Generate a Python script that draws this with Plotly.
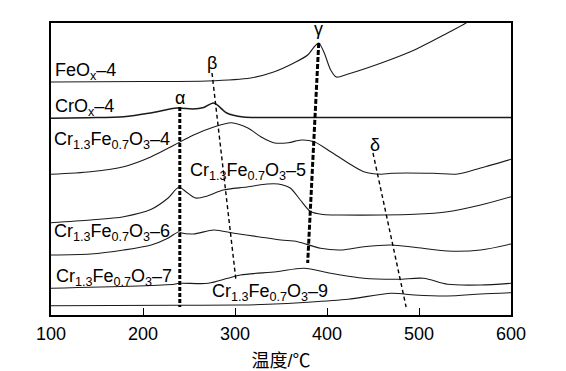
import plotly.graph_objects as go

# Temperature (°C) and signal (a.u., stacked)
T_fe = [100, 200, 270, 317, 342, 364, 379, 386, 391, 397, 404, 410, 423, 459, 495, 531, 551, 575, 600]
I_fe = [233, 233.5, 234, 237, 243, 252, 260, 268, 272, 262, 245, 238, 241, 252, 265, 282, 292, 307, 323]

T_cr = [100, 140, 179, 208, 237, 254, 266, 277, 291, 309, 330, 600]
I_cr = [196.7, 197.3, 198.3, 202, 207, 206, 207.5, 212, 202, 198, 197.5, 197.5]

T_4 = [100, 143, 179, 209, 234, 255, 277, 296, 314, 328, 342, 358, 372, 386, 404, 423, 440, 459, 470, 516, 542, 567, 600]
I_4 = [140.7, 143.3, 148.3, 158.3, 170, 180, 188, 192.3, 187, 178.3, 172.3, 172.3, 175, 173.3, 163.3, 152, 143.3, 140.7, 141.7, 141.7, 141, 147, 155.7]

T_5 = [100, 143, 179, 209, 227, 239, 247, 257, 270, 287, 313, 335, 347, 360, 371, 382, 396, 414, 459, 495, 531, 567, 600]
I_5 = [92.3, 95, 98.3, 105.7, 116.7, 127.7, 123, 117, 119, 125, 128, 131, 131, 127, 115, 103.5, 100.5, 100, 100, 100.7, 103.3, 110, 118.3]

T_6 = [100, 143, 179, 209, 227, 239, 241, 255, 277, 299, 325, 350, 368, 393, 415, 440, 470, 495, 531, 567, 600]
I_6 = [60, 61, 65, 70, 76.7, 83.3, 82.3, 81, 85, 81.7, 78.3, 75, 73.3, 66.7, 65, 68.3, 70, 67.7, 64, 65, 71]

T_7 = [100, 234, 239, 271, 292, 306, 345, 375, 404, 440, 477, 505, 531, 567, 600]
I_7 = [26.7, 30.7, 31.7, 31.7, 36.7, 40, 43.3, 46.7, 41.7, 36.7, 35.7, 36.7, 30.7, 30, 31.7]

T_9 = [100, 234, 306, 336, 379, 423, 470, 495, 531, 567, 600]
I_9 = [9.3, 9.7, 10, 10.7, 12.7, 15.7, 21.7, 20, 19, 21, 22.3]

# Peak guide lines (start/end temperature and signal)
guide_names = ["α", "β", "γ", "δ"]
guide_T = [[240, 240], [275, 301], [391, 379], [450, 486]]
guide_I = [[208, 8], [242, 35], [272, 52], [162, 8]]
guide_label_T = [240, 275, 391, 452]
guide_label_I = [217, 252, 286, 170]

# Sample labels
sample_names = ["FeO<sub>x</sub>–4", "CrO<sub>x</sub>–4",
                "Cr<sub>1.3</sub>Fe<sub>0.7</sub>O<sub>3</sub>–4",
                "Cr<sub>1.3</sub>Fe<sub>0.7</sub>O<sub>3</sub>–5",
                "Cr<sub>1.3</sub>Fe<sub>0.7</sub>O<sub>3</sub>–6",
                "Cr<sub>1.3</sub>Fe<sub>0.7</sub>O<sub>3</sub>–7",
                "Cr<sub>1.3</sub>Fe<sub>0.7</sub>O<sub>3</sub>–9"]
label_T = [102, 102, 101, 249, 101, 103, 273]
label_I = [244, 208, 175, 143.5, 83, 38, 23]

x_ticks = [100, 200, 300, 400, 500, 600]

FONT = "Liberation Sans, Arial, Noto Sans CJK SC, sans-serif"

fig = go.Figure()

curves = [(T_fe, I_fe), (T_cr, I_cr), (T_4, I_4), (T_5, I_5), (T_6, I_6), (T_7, I_7), (T_9, I_9)]
widths = [1.1, 1.5, 1.1, 1.1, 1.1, 1.1, 1.1]
for (tx, iy), w in zip(curves, widths):
    fig.add_trace(go.Scatter(x=tx, y=iy, mode="lines",
                             line=dict(color="#1a1a1a", width=w, shape="spline", smoothing=0.8),
                             hoverinfo="skip", showlegend=False))

guide_style = [dict(width=3, dash="4px,2px"), dict(width=1.4, dash="4px,3px"),
               dict(width=3, dash="5px,2px"), dict(width=1.4, dash="4px,3px")]
for gx, gy, st in zip(guide_T, guide_I, guide_style):
    fig.add_trace(go.Scatter(x=gx, y=gy, mode="lines",
                             line=dict(color="black", width=st["width"], dash=st["dash"]),
                             hoverinfo="skip", showlegend=False))

for name, tx, iy in zip(guide_names, guide_label_T, guide_label_I):
    fig.add_annotation(x=tx, y=iy, xref="x", yref="y", text=name, showarrow=False,
                       font=dict(family=FONT, size=18, color="black"),
                       xanchor="center", yanchor="middle")

for name, tx, iy in zip(sample_names, label_T, label_I):
    fig.add_annotation(x=tx, y=iy, xref="x", yref="y", text=name, showarrow=False,
                       font=dict(family=FONT, size=18, color="black"),
                       xanchor="left", yanchor="middle")

fig.update_xaxes(range=[100, 600], tickvals=x_ticks, ticktext=[str(v) for v in x_ticks],
                 ticks="inside", ticklen=7, tickwidth=1, tickcolor="black",
                 ticklabelstandoff=2, automargin=False,
                 showline=True, linecolor="black", linewidth=1.5, mirror=True,
                 showgrid=False, zeroline=False,
                 tickfont=dict(family=FONT, size=18, color="black"),
                 title=dict(text="温度/℃", font=dict(family=FONT, size=18, color="black"), standoff=13))
fig.update_yaxes(range=[0, 292], showticklabels=False, ticks="", automargin=False,
                 showline=True, linecolor="black", linewidth=1.5, mirror=True,
                 showgrid=False, zeroline=False)

# page body adds an 8px offset, so the figure is sized to fit inside the window
fig.update_layout(width=558, height=363, margin=dict(l=43, r=55, t=15, b=56),
                  plot_bgcolor="white", paper_bgcolor="white", showlegend=False,
                  font=dict(family=FONT, color="black"))

fig.write_html("out.html")
